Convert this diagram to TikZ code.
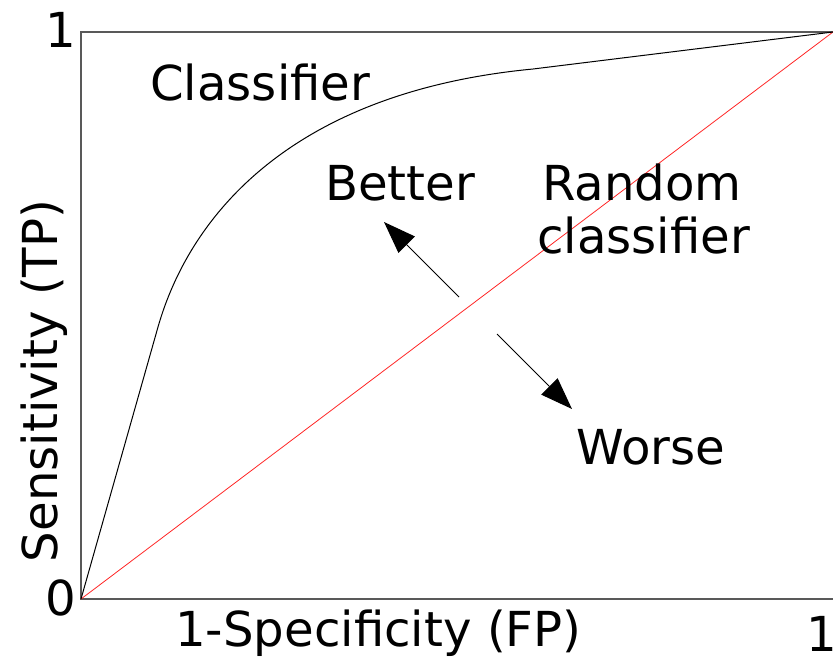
\documentclass[tikz,border=0pt]{standalone}
\usepackage{fontspec}
\setmainfont{DejaVu Sans}
\usetikzlibrary{arrows.meta}
\tikzset{
  frame/.style={draw=black!65, line width=1.3pt},
  roc/.style={draw=black, line width=1pt},
  chance/.style={draw=red!85!white, line width=0.8pt},
  pointer/.style={draw=black, line width=1pt, -{Triangle[length=32pt,width=23pt]}},
  lbl/.style={inner sep=0pt, font=\fontsize{48.2}{57}\selectfont},
}
\begin{document}
\begin{tikzpicture}[x=1pt,y=-1pt]
\useasboundingbox (0,0) rectangle (833,665);

% axes frame corners
\coordinate (o)  at (81,599);
\coordinate (tl) at (81,32);
\coordinate (tr) at (833,32);
\coordinate (br) at (833,599);
\draw[frame] (tr) -- (tl) -- (o) -- (br);

% random classifier diagonal
\draw[chance] (o) -- (tr);

% classifier ROC curve
\coordinate (k1) at (158,327);
\coordinate (k2) at (533,69);
\draw[roc] (o) -- (k1) .. controls (190,215) and (292,92) .. (k2) -- (tr);

% better / worse arrows
\coordinate (bs) at (459,297);
\coordinate (bt) at (384,222);
\coordinate (ws) at (497,334);
\coordinate (wt) at (572,409);
\draw[pointer] (bs) -- (bt);
\draw[pointer] (ws) -- (wt);

% labels
\node[lbl, anchor=base] (y1) at (61,47) {1};
\node[lbl, anchor=base] (y0) at (61,615) {0};
\node[lbl, anchor=base] (x1) at (822,651) {\makebox[20pt]{1}};
\node[lbl, anchor=base west] (xlab) at (175,646) {1-Specificity (FP)};
\node[lbl, anchor=base, rotate=90] (ylab) at (57,381) {Sensitivity (TP)};
\node[lbl, anchor=base west] (cls) at (150,100) {Classifier};
\node[lbl, anchor=base west] (better) at (325,200) {Better};
\node[lbl, anchor=base west] (rnd1) at (542,200) {Random};
\node[lbl, anchor=base west] (rnd2) at (537,253) {classifier};
\node[lbl, anchor=base west] (worse) at (576,464) {Worse};
\end{tikzpicture}
\end{document}
